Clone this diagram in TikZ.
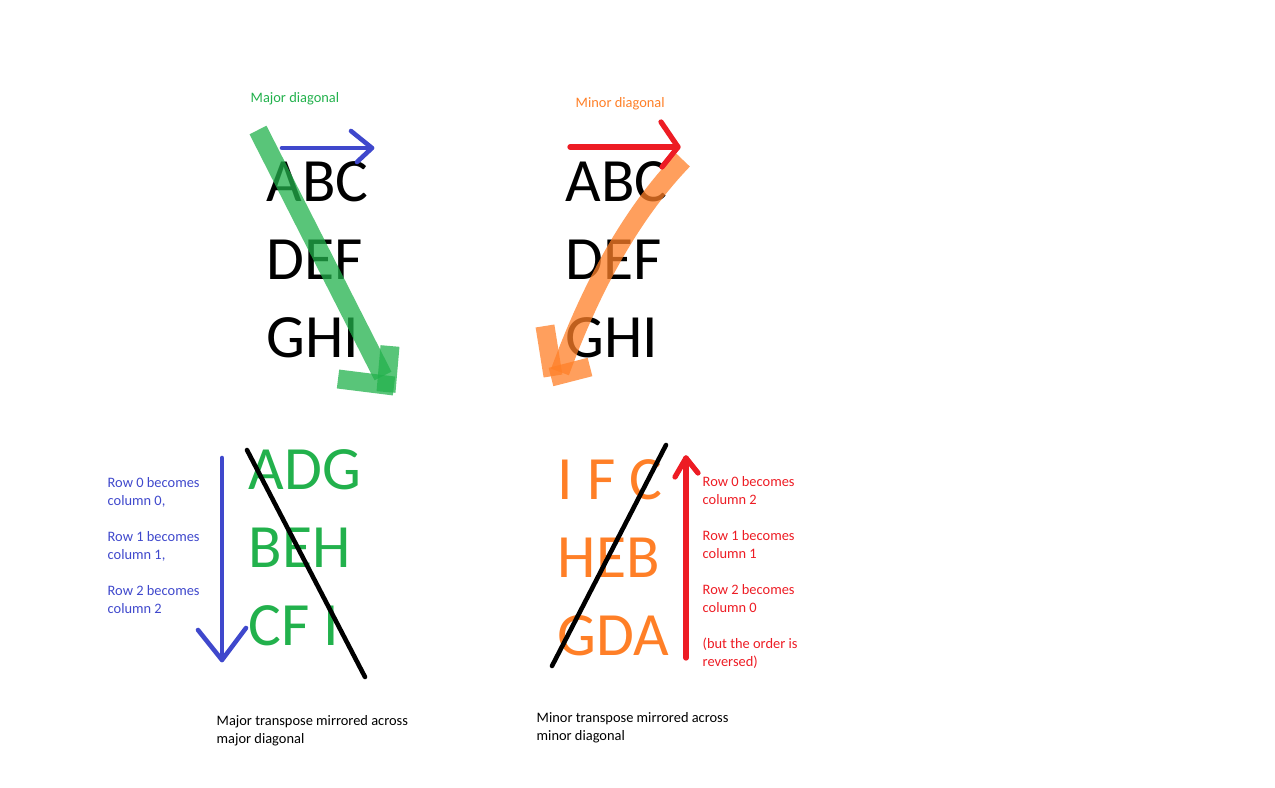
\documentclass[tikz,border=0pt]{standalone}
\usepackage{fontspec}
\setmainfont{Carlito}
\usetikzlibrary{positioning}
\definecolor{paintblue}{HTML}{3F48CC}
\definecolor{paintred}{HTML}{ED1C24}
\definecolor{paintgreen}{HTML}{22B14C}
\definecolor{paintorange}{HTML}{FF7F27}

\begin{document}
\begin{tikzpicture}[x=0.01cm, y=-0.01cm,
  grid/.style={anchor=north west, inner sep=0pt, align=left,
               font=\fontsize{17.5}{22.2}\selectfont},
  note/.style={anchor=north west, inner sep=0pt, align=left,
               font=\fontsize{4.1}{5.1}\selectfont},
  pen/.style={line width=1.3pt, line cap=round, line join=round},
  marker/.style={line width=5.4pt, opacity=0.75},
]
\useasboundingbox (0,0) rectangle (1275,788);

% labels over the two grids
\node[note, text=paintgreen] (lblmaj) at (250,92) {Major diagonal};
\node[note, text=paintorange] (lblmin) at (575,97) {Minor diagonal};

% source matrices
\node[grid] (gridmaj) at (266,161) {ABC\\DEF\\GHI};
\node[grid] (gridmin) at (565,161) {ABC\\DEF\\GHI};

% transposed results
\node[grid, text=paintgreen] (transmaj) at (248,449) {ADG\\BEH\\CF I};
\node[grid, text=paintorange] (transmin) at (557,459) {I F C\\HEB\\GDA};

\node[note, text=paintblue] (notemaj) at (107,477)
  {Row 0 becomes\\column 0,\\[5.1pt]Row 1 becomes\\column 1,\\[5.1pt]Row 2 becomes\\column 2};
\node[note, text=paintred] (notemin) at (702,476)
  {Row 0 becomes\\column 2\\[5.1pt]Row 1 becomes\\column 1\\[5.1pt]Row 2 becomes\\column 0\\[5.1pt](but the order is\\reversed)};

\node[note] (capmaj) at (216,715) {Major transpose mirrored across\\major diagonal};
\node[note] (capmin) at (536,712) {Minor transpose mirrored across\\minor diagonal};

% row direction arrows
\draw[pen, paintblue] (282,148) -- (372,148);
\draw[pen, paintblue] (351,131) -- (372,148) -- (357,162);

% diagonal strokes
\draw[marker, paintgreen] (258,130) -- (383,376);
\draw[marker, paintgreen] (338,379) -- (394,386);
\draw[marker, paintgreen] (390,346) -- (386,392);

\draw[marker, paintorange] (683,160) .. controls (630,215) and (590,290) .. (560,372);
\draw[marker, paintorange] (545,326) -- (553,376);
\draw[marker, paintorange] (551,377) -- (590,367);

\draw[pen, paintred, line width=1.5pt] (570,147) -- (678,147);
\draw[pen, paintred, line width=1.5pt] (661,122) -- (678,147) -- (662,167);

% mirror lines
\draw[pen, black] (247,450) -- (365,677);
\draw[pen, black] (666,445) -- (552,666);

% column direction arrows
\draw[pen, paintblue] (222,458) -- (222,660);
\draw[pen, paintblue] (198,630) -- (222,660) -- (246,628);
\draw[pen, paintred, line width=1.5pt] (686,658) -- (686,458);
\draw[pen, paintred, line width=1.5pt] (675,477) -- (686,458) -- (698,473);
\end{tikzpicture}
\end{document}
